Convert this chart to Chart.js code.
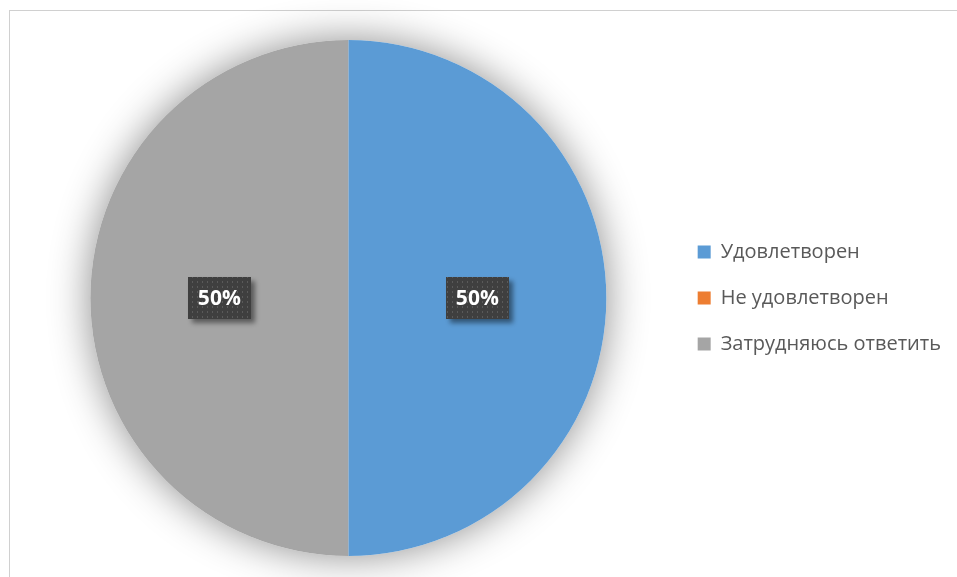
<!DOCTYPE html>
<html>
<head>
<meta charset="utf-8">
<script src="https://cdn.jsdelivr.net/npm/chart.js@4/dist/chart.umd.min.js"></script>
<style>
  html, body { margin: 0; padding: 0; background: #fff; overflow: hidden; width: 957px; height: 577px; }
  .frame { position: absolute; left: 9px; top: 10px; width: 1000px; height: 700px; border: 1px solid #D0D0D0; }
  #chart { position: absolute; left: 0; top: 0; }
</style>
</head>
<body>
<div class="frame"></div>
<canvas id="chart" width="957" height="577"></canvas>
<script>
var labels = ["Удовлетворен", "Не удовлетворен", "Затрудняюсь ответить"];
var values = [50, 0, 50];
var colors = ["#5B9BD5", "#ED7D31", "#A5A5A5"];

// soft glow under the pie, like Excel's shadow effect
var pieShadow = {
    id: 'pieShadow',
    beforeDatasetsDraw: function (chart) {
        var arc = chart.getDatasetMeta(0).data[0];
        var c = chart.ctx;
        c.save();
        c.shadowColor = 'rgba(0,0,0,0.45)';
        c.shadowBlur = 40;
        c.fillStyle = '#fff';
        c.beginPath();
        c.arc(arc.x, arc.y, arc.outerRadius, 0, Math.PI * 2);
        c.fill();
        c.restore();
    }
};

function makePattern(c) {
    var p = document.createElement('canvas');
    p.width = 5; p.height = 5;
    var pc = p.getContext('2d');
    pc.fillStyle = '#3F3F3F';
    pc.fillRect(0, 0, 5, 5);
    pc.fillStyle = '#5A5A5A';
    pc.fillRect(2, 1, 1, 2);
    return c.createPattern(p, 'repeat');
}

var percentLabels = {
    id: 'percentLabels',
    afterDatasetsDraw: function (chart) {
        var c = chart.ctx;
        var data = chart.data.datasets[0].data;
        var total = data.reduce(function (a, b) { return a + b; }, 0);
        var pattern = makePattern(c);
        chart.getDatasetMeta(0).data.forEach(function (arc, i) {
            if (!data[i]) return;
            var pos = arc.tooltipPosition();
            var w = 63, h = 42;
            var x = Math.round(pos.x - w / 2), y = Math.round(pos.y - h / 2);
            c.save();
            c.shadowColor = 'rgba(0,0,0,0.45)';
            c.shadowBlur = 5;
            c.shadowOffsetX = 4;
            c.shadowOffsetY = 4;
            c.fillStyle = pattern;
            c.fillRect(x, y, w, h);
            c.restore();
            c.save();
            c.fillStyle = '#fff';
            c.font = 'bold 21px "Open Sans"';
            c.textAlign = 'center';
            c.textBaseline = 'middle';
            c.fillText(Math.round(data[i] / total * 100) + '%', pos.x, pos.y + 1);
            c.restore();
        });
    }
};

new Chart(document.getElementById('chart'), {
    type: 'pie',
    data: {
        labels: labels,
        datasets: [{
            data: values,
            backgroundColor: colors,
            borderWidth: 0
        }]
    },
    options: {
        responsive: false,
        animation: false,
        layout: { padding: { top: 40, bottom: 21, left: 25, right: 6 } },
        plugins: {
            tooltip: { enabled: false },
            legend: {
                position: 'right',
                labels: {
                    boxWidth: 13,
                    boxHeight: 13,
                    padding: 26,
                    color: '#595959',
                    font: { family: '"Open Sans"', size: 20 }
                }
            }
        }
    },
    plugins: [pieShadow, percentLabels]
});
</script>
</body>
</html>
